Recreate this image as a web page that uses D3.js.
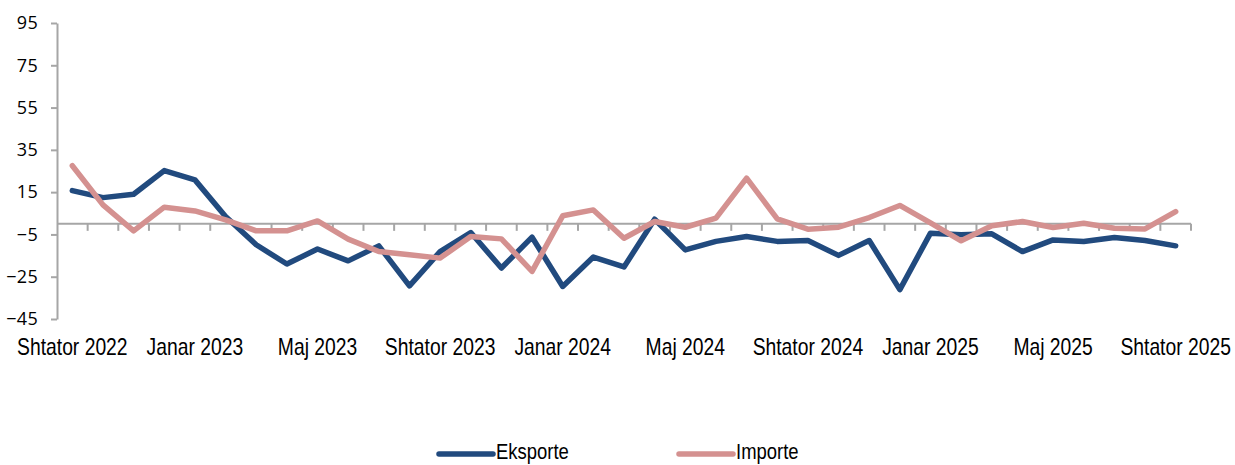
<!DOCTYPE html>
<html>
<head>
<meta charset="utf-8">
<script src="https://cdn.jsdelivr.net/npm/d3@7"></script>
<style>
  html, body { margin: 0; padding: 0; background: #fff; overflow: hidden; }
  svg { display: block; }
</style>
</head>
<body>
<svg id="chart" width="1235" height="465"></svg>
<script>
// Months Shtator 2022 .. Shtator 2025
const months = [
  "Shtator 2022","Tetor 2022","Nëntor 2022","Dhjetor 2022",
  "Janar 2023","Shkurt 2023","Mars 2023","Prill 2023",
  "Maj 2023","Qershor 2023","Korrik 2023","Gusht 2023",
  "Shtator 2023","Tetor 2023","Nëntor 2023","Dhjetor 2023",
  "Janar 2024","Shkurt 2024","Mars 2024","Prill 2024",
  "Maj 2024","Qershor 2024","Korrik 2024","Gusht 2024",
  "Shtator 2024","Tetor 2024","Nëntor 2024","Dhjetor 2024",
  "Janar 2025","Shkurt 2025","Mars 2025","Prill 2025",
  "Maj 2025","Qershor 2025","Korrik 2025","Gusht 2025",
  "Shtator 2025"
];
const eksporte = [
  15.7, 12.4, 14.0, 25.2, 20.8, 3.5, -9.9, -19.0, -11.9, -17.5, -10.4, -29.3,
  -13.1, -4.1, -20.9, -6.3, -29.6, -15.7, -20.4, 2.2, -12.3, -8.3, -6.0, -8.3,
  -7.9, -14.9, -7.9, -31.1, -4.4, -5.2, -4.7, -13.1, -7.6, -8.3, -6.5, -7.9, -10.4
];
const importe = [
  27.5, 9.0, -3.3, 7.9, 6.1, 1.9, -3.3, -3.3, 1.4, -7.2, -13.1, -14.6,
  -16.2, -6.0, -7.1, -22.5, 3.8, 6.6, -6.8, 1.1, -1.6, 2.7, 21.6, 2.4,
  -2.5, -1.6, 3.0, 8.7, 0.5, -8.0, -0.9, 1.1, -1.7, 0.3, -2.1, -2.4, 5.8
];
const yTicks = [-45, -25, -5, 15, 35, 55, 75, 95];
const seriesNames = ["Eksporte", "Importe"];
const seriesColors = ["#214a7e", "#d49190"];

const svg = d3.select("#chart");
const mLeft = 57, mRight = 1191, mTop = 23, mBottom = 319;

const x = d3.scaleBand().domain(months).range([mLeft, mRight]).paddingInner(0).paddingOuter(0);
const y = d3.scaleLinear().domain([-45, 95]).range([mBottom, mTop]);

const axisColor = "#a6a6a6";
const narrowFont = "'Liberation Sans', Arial, sans-serif";
const narrowScale = 0.84;

// Y axis
const yAxis = d3.axisLeft(y).tickValues(yTicks).tickSize(6).tickPadding(13).tickSizeOuter(0);
const yg = svg.append("g").attr("transform", `translate(${mLeft},0)`).call(yAxis);
yg.select(".domain").attr("stroke", axisColor).attr("stroke-width", 2);
yg.selectAll(".tick line").attr("stroke", axisColor).attr("stroke-width", 2);
yg.selectAll(".tick text")
  .attr("fill", "#000")
  .style("font-family", "'Open Sans', 'DejaVu Sans', sans-serif")
  .style("font-size", "18px")
  .style("letter-spacing", "0.3px");

// Zero line with category ticks
const y0 = y(0);
svg.append("line")
  .attr("x1", mLeft).attr("x2", mRight).attr("y1", y0).attr("y2", y0)
  .attr("stroke", axisColor).attr("stroke-width", 2);
const boundaries = months.map((m) => x(m) + x.bandwidth());
svg.append("g").selectAll("line").data(boundaries).join("line")
  .attr("x1", d => d).attr("x2", d => d)
  .attr("y1", y0).attr("y2", y0 + 7)
  .attr("stroke", axisColor).attr("stroke-width", 2);

// X labels every 4th month (condensed look via horizontal scaling)
const labelMonths = months.filter((m, i) => i % 4 === 0);
svg.append("g").selectAll("text").data(labelMonths).join("text")
  .attr("transform", d => `translate(${x(d) + x.bandwidth() / 2},355) scale(${narrowScale},1)`)
  .attr("text-anchor", "middle")
  .style("font-family", narrowFont)
  .style("font-size", "23px")
  .attr("fill", "#000")
  .text(d => d);

// Lines
const line = d3.line()
  .x((d, i) => x(months[i]) + x.bandwidth() / 2)
  .y(d => y(d));

[eksporte, importe].forEach((data, k) => {
  svg.append("path")
    .datum(data)
    .attr("fill", "none")
    .attr("stroke", seriesColors[k])
    .attr("stroke-width", 5.5)
    .attr("stroke-linejoin", "round")
    .attr("stroke-linecap", "round")
    .attr("d", line);
});

// Legend
const legendX = [439, 679];
const lg = svg.append("g");
seriesNames.forEach((name, k) => {
  lg.append("line")
    .attr("x1", legendX[k]).attr("x2", legendX[k] + 54)
    .attr("y1", 454).attr("y2", 454)
    .attr("stroke", seriesColors[k]).attr("stroke-width", 5.5)
    .attr("stroke-linecap", "round");
  lg.append("text")
    .attr("transform", `translate(${legendX[k] + 57},459) scale(${narrowScale},1)`)
    .style("font-family", narrowFont)
    .style("font-size", "22px")
    .attr("fill", "#000")
    .text(name);
});
</script>
</body>
</html>
